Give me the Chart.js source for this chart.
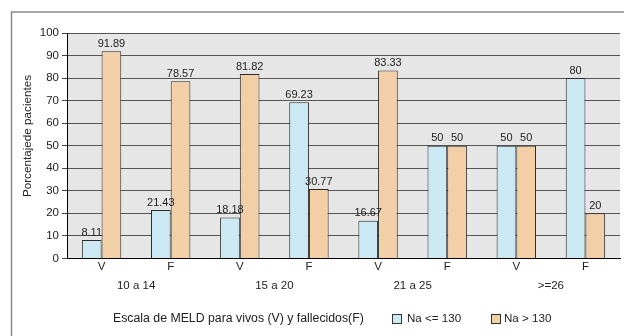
<!DOCTYPE html>
<html>
<head>
<meta charset="utf-8">
<script src="https://cdn.jsdelivr.net/npm/chart.js@4"></script>
<style>
  html, body { margin: 0; padding: 0; background: #fff; }
  #wrap { width: 624px; height: 336px; position: relative; }
</style>
</head>
<body>
<div id="wrap"><canvas id="c" width="624" height="336"></canvas></div>
<script>
// Sub-categories: vivos (V) / fallecidos (F) for each MELD range
const categories = ['V', 'F', 'V', 'F', 'V', 'F', 'V', 'F'];
const meldGroups = ['10 a 14', '15 a 20', '21 a 25', '>=26'];
const seriesNames = ['Na <= 130', 'Na > 130'];
const naLow = [8.11, 21.43, 18.18, 69.23, 16.67, 50, 50, 80];
const naHigh = [91.89, 78.57, 81.82, 30.77, 83.33, 50, 50, 20];
const yTicks = [0, 10, 20, 30, 40, 50, 60, 70, 80, 90, 100];
const yTitle = 'Porcentajede pacientes';
const xTitle = 'Escala de MELD para vivos (V) y fallecidos(F)';

const FONT = '"Liberation Sans", Arial, sans-serif';
const BLUE = '#cce8f3';
const ORANGE = '#f3cfa8';
const TEXT = '#222';

// Frame, shaded plot area, value labels, axis titles and the legend row
const decor = {
  id: 'decor',
  beforeDraw(chart) {
    const { ctx, chartArea: a } = chart;
    ctx.save();
    ctx.fillStyle = '#fff';
    ctx.fillRect(0, 0, chart.width, chart.height);
    ctx.strokeStyle = '#8a8a8a';
    ctx.lineWidth = 1.5;
    ctx.beginPath();
    ctx.moveTo(11.5, chart.height + 2);
    ctx.lineTo(11.5, 12);
    ctx.lineTo(chart.width + 2, 12);
    ctx.stroke();
    ctx.fillStyle = '#e6e6e7';
    ctx.fillRect(a.left, a.top, a.right - a.left, a.bottom - a.top);
    ctx.restore();
  },
  afterDatasetsDraw(chart) {
    const { ctx } = chart;
    ctx.save();
    ctx.font = '11px ' + FONT;
    ctx.fillStyle = TEXT;
    ctx.textAlign = 'center';
    ctx.textBaseline = 'bottom';
    chart.data.datasets.forEach((ds, i) => {
      chart.getDatasetMeta(i).data.forEach((bar, j) => {
        ctx.fillText(String(ds.data[j]), bar.x, bar.y - 2);
      });
    });
    ctx.restore();
  },
  afterDraw(chart) {
    const { ctx } = chart;
    ctx.save();
    ctx.fillStyle = TEXT;
    ctx.textBaseline = 'middle';

    // vertical axis title
    ctx.save();
    ctx.translate(28, 136);
    ctx.rotate(-Math.PI / 2);
    ctx.textAlign = 'center';
    ctx.font = '11.7px ' + FONT;
    ctx.fillText(yTitle, 0, 0);
    ctx.restore();

    // horizontal axis title + legend on one row
    const y = 319;
    ctx.textAlign = 'left';
    ctx.font = '12.3px ' + FONT;
    ctx.fillText(xTitle, 113, y);
    ctx.font = '11.6px ' + FONT;
    const items = [[392, 407], [491, 504]];
    chart.data.datasets.forEach((ds, i) => {
      const [bx, tx] = items[i];
      ctx.fillStyle = ds.backgroundColor;
      ctx.fillRect(bx + 0.5, y - 4.5, 9, 9);
      ctx.strokeStyle = '#333';
      ctx.lineWidth = 1;
      ctx.strokeRect(bx + 0.5, y - 4.5, 9, 9);
      ctx.fillStyle = TEXT;
      ctx.fillText(seriesNames[i], tx, y);
    });
    ctx.restore();
  }
};

new Chart(document.getElementById('c'), {
  type: 'bar',
  data: {
    labels: categories,
    datasets: [
      { label: seriesNames[0], data: naLow, backgroundColor: BLUE, borderColor: '#2b2b2b', borderWidth: 1 },
      { label: seriesNames[1], data: naHigh, backgroundColor: ORANGE, borderColor: '#2b2b2b', borderWidth: 1 }
    ]
  },
  options: {
    responsive: false,
    animation: false,
    devicePixelRatio: 1,
    categoryPercentage: 0.57,
    barPercentage: 1.0,
    layout: { padding: { left: 0, right: 4, top: 33, bottom: 40 } },
    plugins: {
      legend: { display: false },
      tooltip: { enabled: false }
    },
    scales: {
      x: {
        grid: { display: false, drawTicks: false, tickLength: 0 },
        border: { display: true, color: '#000', width: 1 },
        ticks: { color: TEXT, font: { family: FONT, size: 11.5 }, padding: 2 }
      },
      x2: {
        type: 'category',
        labels: meldGroups,
        position: 'bottom',
        display: true,
        grid: { display: false, drawTicks: false, tickLength: 0 },
        border: { display: false },
        ticks: { color: TEXT, font: { family: FONT, size: 11.5 }, padding: 3 }
      },
      y: {
        min: 0,
        max: 100,
        afterBuildTicks(scale) { scale.ticks = yTicks.map(v => ({ value: v })); },
        afterFit(scale) { scale.width = 67; },
        grid: { color: '#555', lineWidth: 1, tickLength: 5, tickColor: '#444' },
        border: { display: true, color: '#000', width: 1 },
        ticks: { color: TEXT, font: { family: FONT, size: 11.5 }, padding: 3 }
      }
    }
  },
  plugins: [decor]
});
</script>
</body>
</html>
